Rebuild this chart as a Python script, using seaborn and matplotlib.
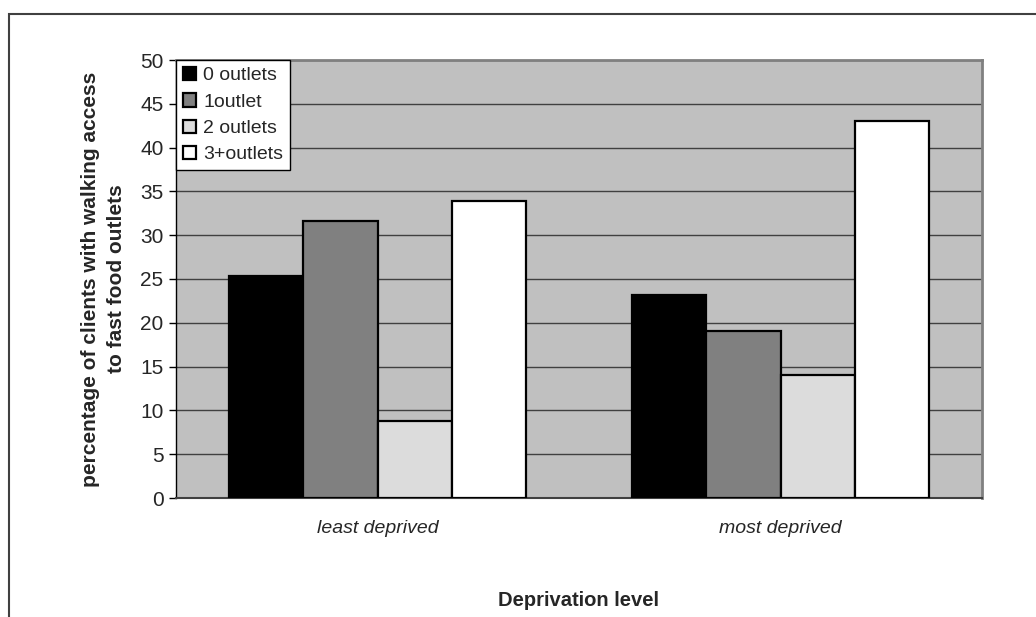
import pandas as pd
import matplotlib.pyplot as plt
import seaborn as sns
from matplotlib.patches import Rectangle

# values
levels = ["least deprived", "most deprived"]
outlet_groups = ["0 outlets", "1outlet", "2 outlets", "3+outlets"]
least_deprived = [25.3, 31.6, 8.8, 33.9]
most_deprived = [23.2, 19.1, 14.0, 43.0]
y_ticks = [0, 5, 10, 15, 20, 25, 30, 35, 40, 45, 50]

rows = []
for grp, a, b in zip(outlet_groups, least_deprived, most_deprived):
    rows.append({"level": levels[0], "outlets": grp, "pct": a})
    rows.append({"level": levels[1], "outlets": grp, "pct": b})
df = pd.DataFrame(rows)

sns.set_theme(style="white")
plt.rcParams["font.family"] = ["Liberation Sans", "DejaVu Sans"]

palette = ["#000000", "#808080", "#DCDCDC", "#FFFFFF"]

fig = plt.figure(figsize=(10.36, 6.17), dpi=100)
ax = fig.add_axes([176 / 1036, 1 - 498 / 617, 806 / 1036, 438 / 617])

# outer chart frame (cropped on right and bottom)
fig.patches.append(Rectangle((9 / 1036, -0.1), 1.2, 1 - 14 / 617 + 0.1,
                             transform=fig.transFigure, fill=False,
                             edgecolor="#404040", linewidth=1.5, zorder=0))

ax.set_facecolor("#C0C0C0")
sns.barplot(data=df, x="level", y="pct", hue="outlets", order=levels,
            hue_order=outlet_groups, palette=palette, width=0.735, gap=0,
            edgecolor="black", linewidth=1.6, saturation=1, ax=ax, zorder=3)

ax.set_ylim(0, 50)
ax.set_yticks(y_ticks)
ax.set_xlim(-0.5, 1.5)
ax.yaxis.grid(True, color="#404040", linewidth=1.0, zorder=1)
ax.set_axisbelow(True)
ax.tick_params(axis="y", which="major", left=True, length=5, width=1,
               color="black", labelsize=15, pad=4)
ax.tick_params(axis="x", bottom=False, labelsize=14, pad=10)
for lbl in ax.get_xticklabels():
    lbl.set_fontstyle("italic")

for side in ["top", "right"]:
    ax.spines[side].set_color("#808080")
    ax.spines[side].set_linewidth(2)
ax.spines["left"].set_color("black")
ax.spines["left"].set_linewidth(1)
ax.spines["bottom"].set_color("#404040")
ax.spines["bottom"].set_linewidth(1.5)

ax.set_ylabel("percentage of clients with walking access\nto fast food outlets",
              fontsize=15, fontweight="bold", labelpad=10, linespacing=1.45)
ax.set_xlabel("Deprivation level", fontsize=14.5, fontweight="bold", labelpad=39)

leg = ax.legend(loc="upper left", bbox_to_anchor=(0, 1), borderaxespad=0,
                frameon=True, fancybox=False, fontsize=14,
                handlelength=0.7, handleheight=0.7, handletextpad=0.35,
                labelspacing=0.45, borderpad=0.35, title=None)
leg.get_frame().set_edgecolor("black")
leg.get_frame().set_linewidth(1)
leg.get_frame().set_facecolor("white")
leg.get_frame().set_alpha(1)
leg.set_zorder(5)

fig.savefig("out.png", dpi=100, facecolor="white")
